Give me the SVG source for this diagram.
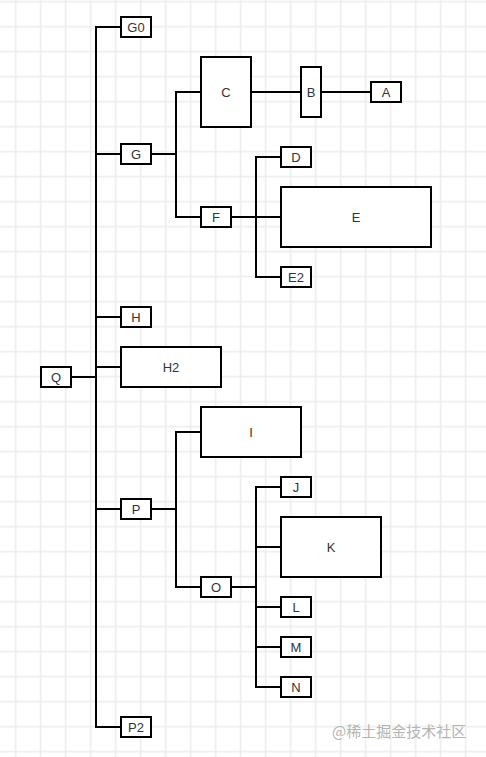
<svg xmlns="http://www.w3.org/2000/svg" width="486" height="757" viewBox="0 0 486 757">
<defs>
<pattern id="grid" width="25" height="25" patternUnits="userSpaceOnUse" x="3.2" y="-10.8">
<line x1="12.5" y1="0" x2="12.5" y2="25" stroke="#ececec" stroke-width="1.6"/>
<line x1="0" y1="12.5" x2="25" y2="12.5" stroke="#ececec" stroke-width="1.6"/>
</pattern>
</defs>
<style>
.n rect{fill:#fff;stroke:#000;stroke-width:2}
.n text{font-family:"Liberation Sans",Arial,sans-serif;font-size:13px;fill:#333;text-anchor:middle}
.e path{fill:none;stroke:#000;stroke-width:2}
.wm{font-family:"Noto Sans CJK SC","Liberation Sans",sans-serif;font-size:15px;fill:#b4b4b4}
</style>
<rect width="486" height="757" fill="#fff"/>
<rect width="486" height="757" fill="url(#grid)"/>
<g id="connectors" class="e">
<path d="M71,377H96V27H121"/>
<path d="M96,377V154H121"/>
<path d="M96,377V317H121"/>
<path d="M96,377V367H121"/>
<path d="M96,377V509H121"/>
<path d="M96,377V727H121"/>
<path d="M151,154H176V92H201"/>
<path d="M151,154H176V217H201"/>
<path d="M251,92H301"/>
<path d="M321,92H371"/>
<path d="M231,217H256V157H281"/>
<path d="M231,217H281"/>
<path d="M256,217V277H281"/>
<path d="M151,509H176V432H201"/>
<path d="M151,509H176V587H201"/>
<path d="M231,587H256V487H281"/>
<path d="M256,547H281"/>
<path d="M256,587V687H281"/>
<path d="M256,607H281"/>
<path d="M256,647H281"/>
</g>
<g id="Q" class="n"><rect x="41" y="367" width="30" height="20"/><text x="56" y="381.5">Q</text></g>
<g id="G0" class="n"><rect x="121" y="17" width="30" height="20"/><text x="136" y="31.5">G0</text></g>
<g id="G" class="n"><rect x="121" y="144" width="30" height="20"/><text x="136" y="158.5">G</text></g>
<g id="H" class="n"><rect x="121" y="307" width="30" height="20"/><text x="136" y="321.5">H</text></g>
<g id="H2" class="n"><rect x="121" y="347" width="100" height="40"/><text x="171" y="371.5">H2</text></g>
<g id="P" class="n"><rect x="121" y="499" width="30" height="20"/><text x="136" y="513.5">P</text></g>
<g id="P2" class="n"><rect x="121" y="717" width="30" height="20"/><text x="136" y="731.5">P2</text></g>
<g id="C" class="n"><rect x="201" y="57" width="50" height="70"/><text x="226" y="96.5">C</text></g>
<g id="B" class="n"><rect x="301" y="67" width="20" height="50"/><text x="311" y="96.5">B</text></g>
<g id="A" class="n"><rect x="371" y="82" width="30" height="20"/><text x="386" y="96.5">A</text></g>
<g id="F" class="n"><rect x="201" y="207" width="30" height="20"/><text x="216" y="221.5">F</text></g>
<g id="D" class="n"><rect x="281" y="147" width="30" height="20"/><text x="296" y="161.5">D</text></g>
<g id="E" class="n"><rect x="281" y="187" width="150" height="60"/><text x="356" y="221.5">E</text></g>
<g id="E2" class="n"><rect x="281" y="267" width="30" height="20"/><text x="296" y="281.5">E2</text></g>
<g id="I" class="n"><rect x="201" y="407" width="100" height="50"/><text x="251" y="436.5">I</text></g>
<g id="O" class="n"><rect x="201" y="577" width="30" height="20"/><text x="216" y="591.5">O</text></g>
<g id="J" class="n"><rect x="281" y="477" width="30" height="20"/><text x="296" y="491.5">J</text></g>
<g id="K" class="n"><rect x="281" y="517" width="100" height="60"/><text x="331" y="551.5">K</text></g>
<g id="L" class="n"><rect x="281" y="597" width="30" height="20"/><text x="296" y="611.5">L</text></g>
<g id="M" class="n"><rect x="281" y="637" width="30" height="20"/><text x="296" y="651.5">M</text></g>
<g id="N" class="n"><rect x="281" y="677" width="30" height="20"/><text x="296" y="691.5">N</text></g>
<text class="wm" x="332" y="737">@稀土掘金技术社区</text>
</svg>
